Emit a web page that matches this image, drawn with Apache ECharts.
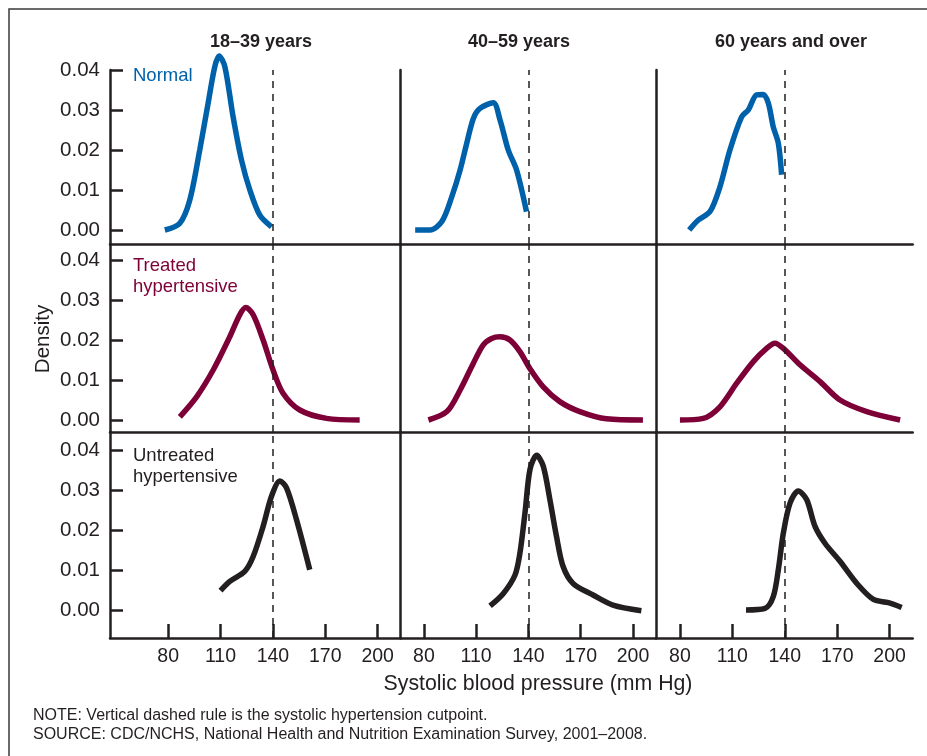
<!DOCTYPE html>
<html>
<head>
<meta charset="utf-8">
<script src="https://cdn.jsdelivr.net/npm/echarts@6/dist/echarts.min.js"></script>
<style>
  html, body { margin: 0; padding: 0; background: #fff; }
  #chart { width: 927px; height: 756px; }
</style>
</head>
<body>
<div id="chart"></div>
<script>
// panels: rows = group, columns = age
var ageGroups = ['18–39 years', '40–59 years', '60 years and over'];
var groupNames = ['Normal', 'Treated\nhypertensive', 'Untreated\nhypertensive'];
var groupColors = ['#0061ab', '#7d0037', '#231f20'];
var xTicks = [80, 110, 140, 170, 200];
var yTicks = [0, 0.01, 0.02, 0.03, 0.04];
var cutpoint = 140;

// [systolic, density]
var normal1 = [[78.1, 0], [86.7, 0.0017], [92.4, 0.0075], [98.1, 0.02], [102.9, 0.0317], [106.7, 0.0408], [109.2, 0.0435], [112.5, 0.0408], [117.2, 0.0283], [122, 0.0175], [126.8, 0.01], [132.5, 0.0037], [139.2, 0.0008]];
var normal2 = [[75, 0], [83.6, 0], [90.3, 0.0021], [96, 0.0083], [100.8, 0.015], [104.6, 0.0217], [108.4, 0.0279], [112.2, 0.0304], [119.8, 0.0318], [123.7, 0.0275], [128.4, 0.02], [133.2, 0.015], [138.9, 0.0046]];
var normal3 = [[85.3, 0], [90.5, 0.0025], [97.2, 0.0046], [102.9, 0.0108], [108.6, 0.02], [115.3, 0.0283], [119.1, 0.03], [123.9, 0.0338], [127.7, 0.0339], [130.6, 0.0317], [133.4, 0.0258], [136.3, 0.0217], [138.2, 0.0138]];
var treated1 = [[86.7, 0.0008], [96.3, 0.0058], [105.8, 0.0125], [115.3, 0.0208], [121, 0.0263], [124.5, 0.0281], [128.7, 0.0263], [134.4, 0.02], [140.1, 0.0125], [145.8, 0.0067], [155.4, 0.0025], [170.7, 0.0004], [189.7, 0]];
var treated2 = [[82.6, 0], [93.2, 0.0021], [100.8, 0.0075], [108.4, 0.0142], [114.1, 0.0188], [118.9, 0.0204], [123.7, 0.0208], [129.4, 0.02], [135.1, 0.0171], [140.8, 0.0129], [148.5, 0.0083], [158, 0.0046], [169.5, 0.0021], [184.8, 0.0003], [205.7, 0]];
var treated3 = [[80, 0], [93.3, 0.0004], [102.9, 0.0033], [112.5, 0.0092], [122, 0.0146], [129.6, 0.0179], [134.4, 0.0192], [139.2, 0.0179], [148.7, 0.0138], [160.2, 0.0096], [171.6, 0.005], [186.9, 0.0021], [206, 0]];
var untreated1 = [[110, 0.005], [115.3, 0.0073], [123.9, 0.0098], [128.7, 0.0135], [134.4, 0.021], [139.2, 0.0285], [144, 0.0323], [147.8, 0.0306], [153.5, 0.0227], [161.1, 0.0102]];
var untreated2 = [[118, 0.0012], [125.6, 0.0043], [132.3, 0.0089], [135.1, 0.0143], [138, 0.0243], [140.9, 0.0352], [144.7, 0.0387], [148.5, 0.036], [152.3, 0.0277], [156.1, 0.0185], [159.9, 0.011], [165.6, 0.0068], [177.1, 0.0039], [188.5, 0.0014], [204.8, 0]];
var untreated3 = [[117.8, 0.0002], [128.7, 0.0006], [133.4, 0.0035], [136.3, 0.0102], [139.2, 0.0194], [143, 0.0268], [147.7, 0.0298], [152.5, 0.0277], [157.3, 0.021], [163, 0.0168], [171.6, 0.0123], [181.2, 0.0068], [190.7, 0.0028], [199.3, 0.002], [206.9, 0.0008]];

var panelData = [
  [normal1, normal2, normal3],
  [treated1, treated2, treated3],
  [untreated1, untreated2, untreated3]
];

var FONT = 'Liberation Sans, Arial, Helvetica, sans-serif';
var INK = '#231f20';

// layout (px)
var colLeft = [110, 400.7, 656];
var colWidth = [290.7, 255.3, 256.7];
var rowTop = [70, 244, 432];
var rowHeight = [174, 188, 206];
var xMin = [46.7, 66.7, 66.3];
var xMax = 213.2;
var yMin = [-0.0035, -0.003, -0.0068];
var yMax = [0.04, 0.044, 0.0445];

var chart = echarts.init(document.getElementById('chart'));

var grid = [], xAxis = [], yAxis = [], series = [];
for (var r = 0; r < 3; r++) {
  for (var c = 0; c < 3; c++) {
    var idx = r * 3 + c;
    var bottomRow = (r === 2);
    var firstCol = (c === 0);
    grid.push({ left: colLeft[c], top: rowTop[r], width: colWidth[c], height: rowHeight[r] });
    xAxis.push({
      type: 'value', gridIndex: idx, min: xMin[c], max: xMax,
      axisLine: { show: true, onZero: false, lineStyle: { color: INK, width: 2.5 } },
      axisTick: { show: bottomRow, inside: true, length: 14, customValues: xTicks, lineStyle: { color: INK, width: 2.5 } },
      axisLabel: { show: bottomRow, customValues: xTicks, margin: 9, color: INK, fontSize: 19.5, fontFamily: FONT },
      splitLine: { show: false }
    });
    yAxis.push({
      type: 'value', gridIndex: idx, min: yMin[r], max: yMax[r],
      axisLine: { show: true, onZero: false, lineStyle: { color: INK, width: 2.5 } },
      axisTick: { show: firstCol, inside: true, length: 13, customValues: yTicks, lineStyle: { color: INK, width: 2.5 } },
      axisLabel: {
        show: firstCol, customValues: yTicks, margin: 10, color: INK, fontSize: 20.5, fontFamily: FONT,
        formatter: function (v) { return v.toFixed(2); }
      },
      splitLine: { show: false }
    });
    series.push({
      type: 'line', xAxisIndex: idx, yAxisIndex: idx,
      data: panelData[r][c],
      showSymbol: false, smooth: 0.3, clip: false,
      lineStyle: { color: groupColors[r], width: 5.5 },
      silent: true,
      markLine: {
        silent: true, symbol: 'none', animation: false,
        label: { show: false },
        lineStyle: { color: INK, width: 1.5, type: [7, 6] },
        data: [{ xAxis: cutpoint }]
      }
    });
  }
}

var titles = [];
var titleX = [256, 514, 786];
for (var i = 0; i < 3; i++) {
  titles.push({
    text: ageGroups[i], left: titleX[i], top: 28, textAlign: 'center',
    textStyle: { fontFamily: FONT, fontSize: 18, fontWeight: 'bold', color: INK }
  });
}

var labelTop = [65, 255, 445];
var graphic = [
  { type: 'rect', shape: { x: 9, y: 9, width: 940, height: 780 }, style: { fill: 'none', stroke: '#3a3a3a', lineWidth: 1.5 }, silent: true }
];
for (var g = 0; g < 3; g++) {
  graphic.push({
    type: 'text', left: 133, top: labelTop[g],
    style: { text: groupNames[g], fill: groupColors[g], font: '18.5px ' + FONT, lineHeight: 21 }
  });
}
graphic.push(
  { type: 'text', x: 43, y: 339, rotation: Math.PI / 2,
    style: { text: 'Density', fill: INK, font: '20.5px ' + FONT, align: 'center', verticalAlign: 'middle' } },
  { type: 'text', x: 538, y: 684,
    style: { text: 'Systolic blood pressure (mm Hg)', fill: INK, font: '21.3px ' + FONT, align: 'center', verticalAlign: 'middle' } },
  { type: 'text', x: 33, y: 716,
    style: { text: 'NOTE: Vertical dashed rule is the systolic hypertension cutpoint.', fill: INK, font: '16px ' + FONT, verticalAlign: 'middle' } },
  { type: 'text', x: 33, y: 734.5,
    style: { text: 'SOURCE: CDC/NCHS, National Health and Nutrition Examination Survey, 2001–2008.', fill: INK, font: '16px ' + FONT, verticalAlign: 'middle' } }
);

chart.setOption({
  animation: false,
  backgroundColor: '#fff',
  title: titles,
  grid: grid,
  xAxis: xAxis,
  yAxis: yAxis,
  series: series,
  graphic: graphic
});
</script>
</body>
</html>
